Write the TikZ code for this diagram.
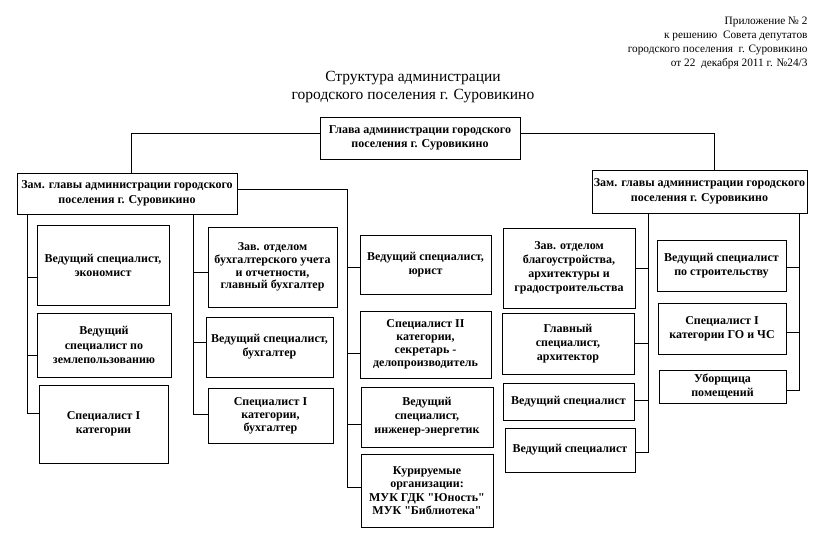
\documentclass[tikz,border=0pt]{standalone}
\usepackage{fontspec}
\setmainfont{Liberation Serif}[Ligatures=TeXOff]

\tikzset{
  box/.style={draw, line width=0.9pt, inner sep=1pt, align=center,
    font=\fontsize{12}{14}\selectfont\bfseries},
  link/.style={line width=0.9pt}
}

\begin{document}
\begin{tikzpicture}[x=1pt,y=-1pt]
  \useasboundingbox[fill=white] (0,0) rectangle (834,550);

  % heading
  \node[anchor=north east, align=right, font=\fontsize{11.3}{14}\selectfont] (app) at (811,13)
    {Приложение № 2\\к решению\ \ Совета депутатов\\городского поселения\ \ г. Суровикино\\от 22\ \ декабря 2011 г. №24/3};
  \node[align=center, font=\fontsize{15.5}{18}\selectfont] (title) at (413,87)
    {Структура администрации\\городского поселения г. Суровикино};

  % top level
  \node[box, minimum width=200, minimum height=42] (head) at (420,138)
    {Глава администрации городского\\поселения г. Суровикино};
  \node[box, minimum width=220, minimum height=41, font=\fontsize{12}{15.5}\selectfont\bfseries] (zamL) at (127,193.5)
    {Зам. главы администрации городского\\поселения г. Суровикино};
  \node[box, minimum width=215, minimum height=43, font=\fontsize{12}{15.5}\selectfont\bfseries] (zamR) at (699.5,191.5)
    {Зам. главы администрации городского\\поселения г. Суровикино};

  % left deputy, first column
  \node[box, minimum width=132, minimum height=80] (ec) at (103,265)
    {Ведущий специалист,\\экономист};
  \node[box, minimum width=134, minimum height=64, font=\fontsize{12}{14.7}\selectfont\bfseries] (zem) at (104,345)
    {Ведущий\\специалист по\\землепользованию};
  \node[box, minimum width=129, minimum height=78] (sI) at (103.5,424)
    {Специалист I\\категории};

  % left deputy, second column
  \node[box, minimum width=129, minimum height=80, font=\fontsize{12}{12.8}\selectfont\bfseries] (zavb) at (272.5,267)
    {Зав. отделом\\бухгалтерского учета\\и отчетности,\\главный бухгалтер};
  \node[box, minimum width=127, minimum height=60] (vsb) at (269.5,347)
    {Ведущий специалист,\\бухгалтер};
  \node[box, minimum width=125, minimum height=55, font=\fontsize{12}{13}\selectfont\bfseries] (sIb) at (270.5,415.5)
    {Специалист I\\категории,\\бухгалтер};

  % left deputy, third column
  \node[box, minimum width=131, minimum height=59] (yur) at (425.5,264.5)
    {Ведущий специалист,\\юрист};
  \node[box, minimum width=131, minimum height=67, font=\fontsize{12}{13}\selectfont\bfseries] (sII) at (425.5,344.5)
    {Специалист II\\категории,\\секретарь -\\делопроизводитель};
  \node[box, minimum width=132, minimum height=60] (en) at (427,417)
    {Ведущий\\специалист,\\инженер-энергетик};
  \node[box, minimum width=132, minimum height=73, font=\fontsize{12}{13.5}\selectfont\bfseries] (kur) at (427,490.5)
    {Курируемые\\организации:\\МУК ГДК "Юность"\\МУК "Библиотека"};

  % right deputy, first column
  \node[box, minimum width=132, minimum height=80] (blag) at (569,268)
    {Зав. отделом\\благоустройства,\\архитектуры и\\градостроительства};
  \node[box, minimum width=132, minimum height=61] (arch) at (568,343.5)
    {Главный\\специалист,\\архитектор};
  \node[box, minimum width=131, minimum height=37] (vsA) at (568.5,401.5)
    {Ведущий специалист};
  \node[box, minimum width=130, minimum height=44] (vsB) at (570,450)
    {Ведущий специалист};

  % right deputy, second column
  \node[box, minimum width=129, minimum height=51] (str) at (721.5,265.5)
    {Ведущий специалист\\по строительству};
  \node[box, minimum width=128, minimum height=51] (go) at (722,328.5)
    {Специалист I\\категории ГО и ЧС};
  \node[box, minimum width=127, minimum height=33] (ub) at (722.5,386.5)
    {Уборщица\\помещений};

  % links from the head
  \draw[link] ([yshift=5pt]head.west) -| ([xshift=4pt]zamL.north);
  \draw[link] ([yshift=5pt]head.east) -| ([xshift=14.5pt]zamR.north);

  % trunks
  \coordinate (tA) at (27,214);
  \coordinate (tB) at (193,214);
  \coordinate (tC) at (347,189);
  \coordinate (tD) at (648,213);
  \coordinate (tE) at (799,213);
  \draw[link] ([yshift=4.5pt]zamL.east) -- (tC);

  \foreach \c/\s in {ec/-12, zem/-10, sI/11}{
    \draw[link] (tA) |- ([yshift=\s pt]\c.west);
  }
  \foreach \c/\s in {zavb/-5, vsb/5, sIb/1}{
    \draw[link] (tB) |- ([yshift=\s pt]\c.west);
  }
  \foreach \c/\s in {yur/-2.5, sII/-8.5, en/-7, kur/3.5}{
    \draw[link] (tC) |- ([yshift=\s pt]\c.west);
  }
  \foreach \c/\s in {blag/0, arch/0.5, vsA/1.5, vsB/-2}{
    \draw[link] (tD) |- ([yshift=\s pt]\c.east);
  }
  \foreach \c/\s in {str/-1.5, go/-3.5, ub/-3.5}{
    \draw[link] (tE) |- ([yshift=\s pt]\c.east);
  }
\end{tikzpicture}
\end{document}
